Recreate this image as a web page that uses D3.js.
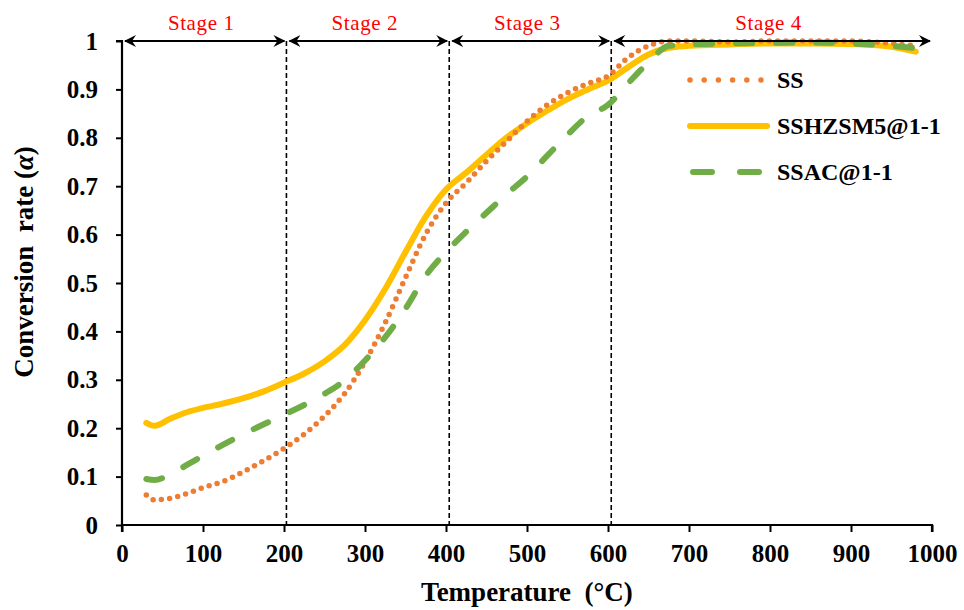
<!DOCTYPE html>
<html>
<head>
<meta charset="utf-8">
<script src="https://d3js.org/d3.v7.min.js"></script>
<style>
  body { margin: 0; background: #fff; }
  svg { display: block; }
  svg text { font-family: "Liberation Serif", "Times New Roman", serif; }
</style>
</head>
<body>
<svg width="964" height="610"></svg>
<script>
// temperature (°C) and conversion rate of the three samples
const temps   = [30, 40, 60, 80, 100, 125, 150, 175, 200, 225, 250, 275, 300, 325, 350, 375, 400, 425, 450, 475, 500, 525, 550, 575, 600, 625, 650, 675, 700, 750, 800, 850, 900, 950, 980];
const ss      = [0.062, 0.052, 0.055, 0.065, 0.077, 0.090, 0.110, 0.133, 0.158, 0.188, 0.225, 0.272, 0.337, 0.418, 0.511, 0.601, 0.665, 0.707, 0.752, 0.793, 0.834, 0.868, 0.893, 0.912, 0.928, 0.966, 0.990, 1.000, 1.000, 0.998, 1.000, 1.000, 1.000, 0.995, 0.990];
const sshzsm5 = [0.211, 0.205, 0.220, 0.233, 0.242, 0.251, 0.262, 0.276, 0.294, 0.313, 0.338, 0.372, 0.423, 0.488, 0.564, 0.637, 0.693, 0.728, 0.765, 0.801, 0.830, 0.856, 0.880, 0.900, 0.918, 0.946, 0.972, 0.986, 0.990, 0.993, 0.995, 0.995, 0.994, 0.988, 0.978];
const ssac    = [0.095, 0.093, 0.105, 0.124, 0.143, 0.166, 0.188, 0.208, 0.228, 0.248, 0.271, 0.299, 0.340, 0.388, 0.447, 0.515, 0.564, 0.606, 0.645, 0.684, 0.720, 0.763, 0.806, 0.845, 0.868, 0.913, 0.956, 0.990, 0.993, 0.995, 0.996, 0.997, 0.995, 0.990, 0.985];

const seriesNames = ["SS", "SSHZSM5@1-1", "SSAC@1-1"];
const stageBounds = [0, 203, 404, 604, 1000];
const stageLabels = ["Stage 1", "Stage 2", "Stage 3", "Stage 4"];
const xTicks = [0, 100, 200, 300, 400, 500, 600, 700, 800, 900, 1000];
const yTicks = [0, 0.1, 0.2, 0.3, 0.4, 0.5, 0.6, 0.7, 0.8, 0.9, 1];

const svg = d3.select("svg");
const serif = "Liberation Serif, Times New Roman, serif";
const margin = { left: 122, right: 32, top: 41, bottom: 85 };
const width = 964, height = 610;

const x = d3.scaleLinear().domain([0, 1000]).range([margin.left, width - margin.right]);
const y = d3.scaleLinear().domain([0, 1]).range([height - margin.bottom, margin.top]);

// arrow marker
svg.append("defs").append("marker")
  .attr("id", "arr")
  .attr("viewBox", "0 -6 12 12")
  .attr("refX", 11).attr("refY", 0)
  .attr("markerWidth", 12).attr("markerHeight", 12)
  .attr("markerUnits", "userSpaceOnUse")
  .attr("orient", "auto-start-reverse")
  .append("path")
  .attr("d", "M0,-6L12,0L0,6L4,0Z")
  .attr("fill", "#000");

// axes
const yAxis = svg.append("g")
  .attr("transform", `translate(${x(0)},0)`)
  .call(d3.axisLeft(y).tickValues(yTicks).tickSize(6).tickPadding(18)
    .tickFormat(d => d === 0 || d === 1 ? d3.format("d")(d) : d3.format(".1f")(d)));
const xAxis = svg.append("g")
  .attr("transform", `translate(0,${y(0)})`)
  .call(d3.axisBottom(x).tickValues(xTicks).tickSize(7).tickPadding(12).tickFormat(d3.format("d")));

[xAxis, yAxis].forEach(a => {
  a.attr("font-family", serif);
  a.selectAll(".domain").attr("stroke", "#000").attr("stroke-width", 2.2);
  a.selectAll(".tick line").attr("stroke", "#000").attr("stroke-width", 2);
  a.selectAll("text").attr("fill", "#000").attr("font-size", 25).attr("font-weight", "bold")
    .attr("font-family", serif);
});
yAxis.select(".domain").attr("d", `M-6,${y(1)}H0V${y(0)}`);
xAxis.select(".domain").attr("d", `M${x(0)},7V0H${x(1000)}V7`);

// stage separators
svg.append("g").selectAll("line")
  .data(stageBounds.slice(1, -1))
  .join("line")
  .attr("x1", d => x(d)).attr("x2", d => x(d))
  .attr("y1", y(1)).attr("y2", y(0))
  .attr("stroke", "#000").attr("stroke-width", 1.6)
  .attr("stroke-dasharray", "5,3");

// data lines
const line = d3.line().curve(d3.curveMonotoneX);
const styles = [
  { vals: ss, color: "#ED7D31", w: 5.5, dash: "0 8.3", legDash: "0 14.2", cap: "round" },
  { vals: sshzsm5, color: "#FFC000", w: 6, dash: null, legDash: null, cap: "round" },
  { vals: ssac, color: "#70AD47", w: 6, dash: "16 24", legDash: "19 28", cap: "round" }
];
const drawOrder = [1, 0, 2];
drawOrder.forEach(i => {
  const s = styles[i];
  svg.append("path")
    .datum(temps.map((t, k) => [x(t), y(s.vals[k])]))
    .attr("d", line)
    .attr("fill", "none")
    .attr("stroke", s.color)
    .attr("stroke-width", s.w)
    .attr("stroke-linecap", s.cap)
    .attr("stroke-linejoin", "round")
    .attr("stroke-dasharray", s.dash);
});

// stage arrows and labels
const stages = svg.append("g");
stageLabels.forEach((lab, i) => {
  const a = stageBounds[i], b = stageBounds[i + 1];
  stages.append("line")
    .attr("x1", x(a) + 3).attr("x2", x(b) - 2)
    .attr("y1", y(1)).attr("y2", y(1))
    .attr("stroke", "#000").attr("stroke-width", 2)
    .attr("marker-start", "url(#arr)").attr("marker-end", "url(#arr)");
  stages.append("text")
    .attr("x", x((a + b) / 2) - 3).attr("y", 30)
    .attr("text-anchor", "middle")
    .attr("fill", "#FF0000")
    .attr("font-family", serif)
    .attr("font-size", 21)
    .attr("letter-spacing", 0.6)
    .text(lab);
});

// legend
const legend = svg.append("g");
const legY = [80, 126, 172];
const legX = [[690, 761], [690, 767], [693, 759]];
seriesNames.forEach((name, i) => {
  const s = styles[i];
  legend.append("line")
    .attr("x1", legX[i][0]).attr("x2", legX[i][1])
    .attr("y1", legY[i]).attr("y2", legY[i])
    .attr("stroke", s.color).attr("stroke-width", s.w)
    .attr("stroke-linecap", s.cap)
    .attr("stroke-dasharray", s.legDash);
  legend.append("text")
    .attr("x", 777).attr("y", legY[i]).attr("dy", "0.35em")
    .attr("font-family", serif)
    .attr("font-size", 24).attr("font-weight", "bold")
    .text(name);
});

// axis titles
svg.append("text")
  .attr("x", 527).attr("y", 601)
  .attr("text-anchor", "middle")
  .attr("font-family", serif)
  .attr("font-size", 27).attr("font-weight", "bold")
  .attr("xml:space", "preserve")
  .text("Temperature  (°C)");

const yl = svg.append("text")
  .attr("transform", "translate(33,262) rotate(-90)")
  .attr("text-anchor", "middle")
  .attr("font-family", serif)
  .attr("font-size", 27).attr("font-weight", "bold")
  .attr("xml:space", "preserve");
yl.append("tspan").text("Conversion  rate (");
yl.append("tspan").attr("font-style", "italic").text("α");
yl.append("tspan").text(")");
</script>
</body>
</html>
